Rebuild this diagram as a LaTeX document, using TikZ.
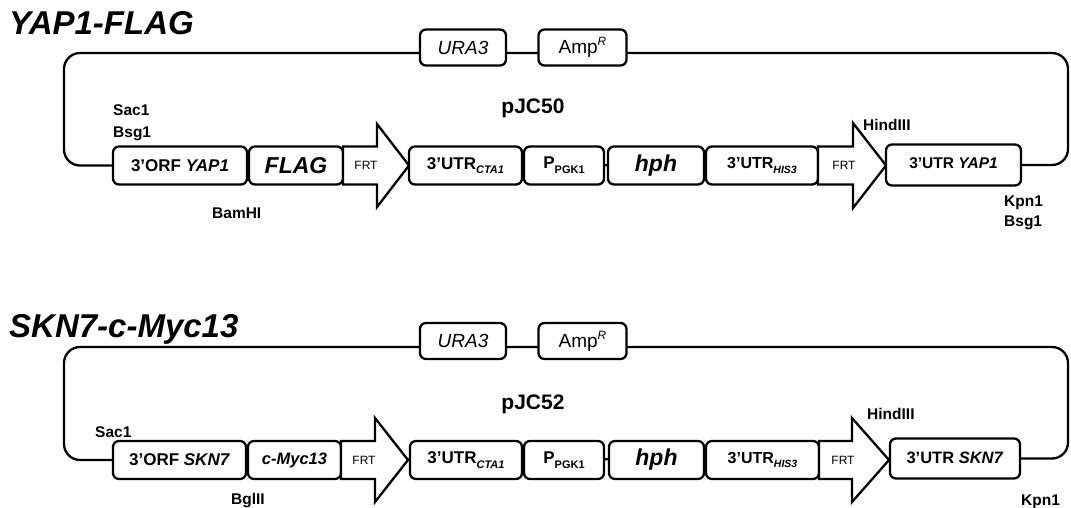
\documentclass[tikz,border=0pt]{standalone}
\usepackage{fontspec}
\setmainfont{Liberation Sans}
\usetikzlibrary{backgrounds}
\newcommand{\subt}[2][11]{\raisebox{-0.28em}{\fontsize{#1}{#1}\selectfont #2}}
\newcommand{\supt}[1]{\raisebox{0.42em}{\fontsize{12}{12}\selectfont #1}}
\begin{document}
\begin{tikzpicture}[x=1pt,y=-1pt,
  ln/.style={line width=2.3pt},
  gbox/.style={draw, line width=2.3pt, rounded corners=6pt, fill=white, inner sep=0pt},
  blk/.style={gbox, font=\fontsize{17}{18}\selectfont\bfseries},
  lab/.style={inner sep=0pt, anchor=base west, font=\fontsize{15.5}{17}\selectfont\bfseries},
  plab/.style={inner sep=0pt, anchor=base, font=\fontsize{21}{22}\selectfont\bfseries},
  ttl/.style={inner sep=0pt, anchor=base west, font=\fontsize{33}{36}\selectfont\bfseries\itshape},
  frt/.style={draw, line width=2.3pt, fill=white, line join=miter},
  frttxt/.style={inner sep=0pt, font=\fontsize{12}{13}\selectfont},
  big/.style={font=\fontsize{23}{24}\selectfont\bfseries\itshape},
  gene/.style={font=\fontsize{19}{20}\selectfont}
]
\useasboundingbox (0,0) rectangle (1071,508);

% ================= top: YAP1-FLAG =================
\node[ttl] (t1) at (9,35) {YAP1-FLAG};
\node[gbox, gene, minimum width=86pt, minimum height=36pt] (uraA) at (463,47.5) {\itshape URA3};
\node[gbox, gene, minimum width=88pt, minimum height=36pt] (ampA) at (582.5,47.5) {Amp\supt{\itshape R}};
\node[plab] (pA) at (533,114) {pJC50};
\node[lab] (sacA) at (113,116) {Sac1};
\node[lab] (bsgA) at (113,138) {Bsg1};
\node[lab] (bamA) at (212,218) {BamHI};
\node[lab] (hinA) at (863,131) {HindIII};
\node[lab] (kpnA) at (1004,206) {Kpn1};
\node[lab] (bsgB) at (1004,226) {Bsg1};

\node[blk, minimum width=134pt, minimum height=38pt] (orfA) at (180,165.5) {3’ORF \textit{YAP1}};
\node[blk, big, minimum width=94pt, minimum height=38pt] (flagA) at (296,165.5) {FLAG};
\draw[frt] (343,146.5) -- (377,146.5) -- (377,124) -- (409,165.5) -- (377,207) -- (377,184.5) -- (343,184.5) -- cycle;
\node[frttxt] (frtA1) at (366,165.5) {FRT};
\node[blk, minimum width=113pt, minimum height=38pt] (ctaA) at (465.5,165.5) {3’UTR\subt{\textit{CTA1}}};
\node[blk, minimum width=80pt, minimum height=38pt] (pgkA) at (564,165.5) {P\subt{PGK1}};
\node[blk, big, minimum width=96pt, minimum height=38pt] (hphA) at (656,165.5) {hph};
\node[blk, font=\fontsize{16}{18}\selectfont\bfseries, minimum width=112pt, minimum height=38pt] (hisA) at (762,165.5) {3’UTR\subt[10.5]{\textit{HIS3}}};
\draw[frt] (818,146.5) -- (853,146.5) -- (853,123) -- (886,165.5) -- (853,208) -- (853,184.5) -- (818,184.5) -- cycle;
\node[frttxt] (frtA2) at (844,165.5) {FRT};
\node[blk, font=\fontsize{15.5}{17}\selectfont\bfseries, minimum width=135pt, minimum height=41pt] (utrA) at (953.5,165) {\raisebox{3pt}{3'UTR \textit{YAP1}}};

\begin{pgfonlayer}{background}
  \draw[ln, rounded corners=16pt] (orfA.west) -| (64,53) -- (1068,53) |- (utrA.east);
  \draw[ln] (orfA.center) -- (utrA.center);
\end{pgfonlayer}

% ================= bottom: SKN7-c-Myc13 =================
\node[ttl] (t2) at (9,337) {SKN7-c-Myc13};
\node[gbox, gene, minimum width=86pt, minimum height=36pt] (uraB) at (463,341) {\itshape URA3};
\node[gbox, gene, minimum width=88pt, minimum height=36pt] (ampB) at (582.5,341) {Amp\supt{\itshape R}};
\node[plab] (pB) at (533,409) {pJC52};
\node[lab] (sacB) at (95,437) {Sac1};
\node[lab] (bglB) at (231,504) {BglII};
\node[lab] (hinB) at (867,419) {HindIII};
\node[lab] (kpnB) at (1021,505) {Kpn1};

\node[blk, minimum width=133pt, minimum height=38pt] (orfB) at (179.5,460) {3’ORF \textit{SKN7}};
\node[blk, font=\fontsize{16.5}{18}\selectfont\bfseries\itshape, minimum width=93pt, minimum height=38pt] (mycB) at (294.5,460) {c-Myc13};
\draw[frt] (341,441) -- (375,441) -- (375,418) -- (408,460) -- (375,502) -- (375,479) -- (341,479) -- cycle;
\node[frttxt] (frtB1) at (364,460) {FRT};
\node[blk, minimum width=112pt, minimum height=38pt] (ctaB) at (466,460) {3’UTR\subt{\textit{CTA1}}};
\node[blk, minimum width=80pt, minimum height=38pt] (pgkB) at (564,460) {P\subt{PGK1}};
\node[blk, big, minimum width=95pt, minimum height=38pt] (hphB) at (656.5,460) {hph};
\node[blk, font=\fontsize{16}{18}\selectfont\bfseries, minimum width=113pt, minimum height=38pt] (hisB) at (762.5,460) {3’UTR\subt[10.5]{\textit{HIS3}}};
\draw[frt] (819,441) -- (852,441) -- (852,418) -- (889,460) -- (852,502) -- (852,479) -- (819,479) -- cycle;
\node[frttxt] (frtB2) at (843,460) {FRT};
\node[blk, font=\fontsize{16.5}{18}\selectfont\bfseries, minimum width=130pt, minimum height=40pt] (utrB) at (955,458.5) {\raisebox{2pt}{3'UTR \textit{SKN7}}};

\begin{pgfonlayer}{background}
  \draw[ln, rounded corners=16pt] (orfB.west) -| (64,347) -- (1068,347) |- (utrB.east);
  \draw[ln] (orfB.center) -- (utrB.center);
\end{pgfonlayer}
\end{tikzpicture}
\end{document}
